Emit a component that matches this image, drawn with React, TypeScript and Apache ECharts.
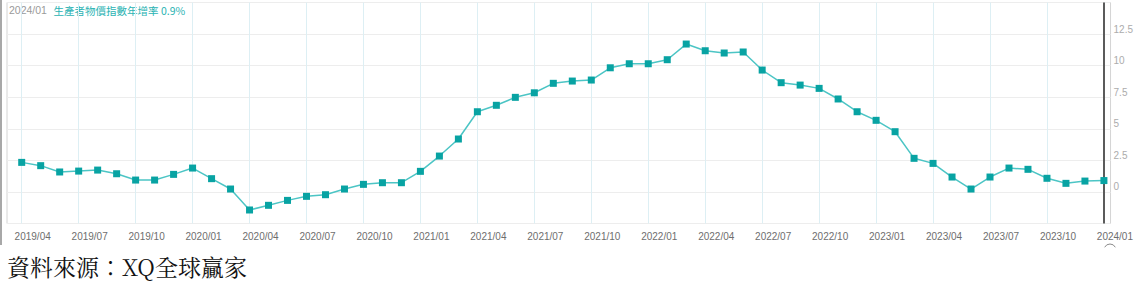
import React, { useEffect, useRef } from "react";
import * as echarts from "echarts";

const months: string[] = [
  "2019/04","2019/05","2019/06","2019/07","2019/08","2019/09","2019/10","2019/11","2019/12",
  "2020/01","2020/02","2020/03","2020/04","2020/05","2020/06","2020/07","2020/08","2020/09","2020/10","2020/11","2020/12",
  "2021/01","2021/02","2021/03","2021/04","2021/05","2021/06","2021/07","2021/08","2021/09","2021/10","2021/11","2021/12",
  "2022/01","2022/02","2022/03","2022/04","2022/05","2022/06","2022/07","2022/08","2022/09","2022/10","2022/11","2022/12",
  "2023/01","2023/02","2023/03","2023/04","2023/05","2023/06","2023/07","2023/08","2023/09","2023/10","2023/11","2023/12",
  "2024/01",
];

const ppiYoY: number[] = [
  2.34, 2.08, 1.58, 1.65, 1.73, 1.44, 0.94, 0.94, 1.39,
  1.89, 1.05, 0.23, -1.43, -1.06, -0.67, -0.35, -0.22, 0.23, 0.6, 0.73, 0.73,
  1.63, 2.84, 4.19, 6.35, 6.86, 7.49, 7.85, 8.6, 8.78, 8.86, 9.83, 10.15,
  10.15, 10.47, 11.71, 11.18, 11.0, 11.08, 9.65, 8.65, 8.46, 8.2, 7.36, 6.35,
  5.67, 4.77, 2.66, 2.26, 1.18, 0.23, 1.18, 1.89, 1.79, 1.08, 0.68, 0.86,
  0.9,
];

const seriesName = "生產者物價指數年增率";
const sourceText = "資料來源：XQ全球贏家";
const yMin = -2.5;
const yMax = 15;
const yStep = 2.5;

export default function App() {
  const ref = useRef<HTMLDivElement>(null);

  useEffect(() => {
    if (!ref.current) return;
    const chart = echarts.init(ref.current, null, { renderer: "svg" });
    const lastIdx = months.length - 1;
    const lastLabel = months[lastIdx];
    const lastVal = ppiYoY[lastIdx];

    const option: any = {
      animation: false,
      backgroundColor: "#ffffff",
      textStyle: { fontFamily: "'Liberation Sans', Arial, sans-serif" },
      grid: [
        {
          left: 7,
          top: 2.5,
          width: 1111,
          height: 221,
          show: true,
          borderColor: "#d4d4d4",
          borderWidth: 1,
          backgroundColor: "transparent",
        },
        {
          left: 21.7,
          top: 2.5,
          width: 1082.8,
          height: 221,
        },
      ],
      xAxis: [
        { type: "value", gridIndex: 0, show: false, min: 0, max: 1 },
        {
          type: "category",
          gridIndex: 1,
          data: months,
          boundaryGap: false,
          axisLine: { show: false },
          axisTick: { show: false },
          axisLabel: {
            interval: 2,
            color: "#6e6e6e",
            fontSize: 10,
            margin: 8,
            padding: [0, 0, 0, 22],
            fontFamily: "'Liberation Sans', Arial, sans-serif",
          },
          splitLine: {
            show: true,
            interval: 2,
            lineStyle: { color: "#ddeff4", width: 1 },
          },
        },
      ],
      yAxis: [
        {
          type: "value",
          gridIndex: 0,
          position: "right",
          min: yMin,
          max: yMax,
          interval: yStep,
          axisLine: { show: false },
          axisTick: { show: false },
          splitLine: { show: true, lineStyle: { color: "#ededed", width: 1 } },
          axisLabel: {
            margin: 3,
            color: "#acacac",
            fontSize: 10,
            verticalAlign: "bottom",
            formatter: (v: number) => (v <= yMin || v >= yMax ? "" : String(v)),
          },
        },
        { type: "value", gridIndex: 1, min: yMin, max: yMax, show: false },
      ],
      series: [
        {
          name: seriesName,
          type: "line",
          xAxisIndex: 1,
          yAxisIndex: 1,
          data: ppiYoY,
          symbol: "rect",
          symbolSize: 7,
          showAllSymbol: true,
          itemStyle: { color: "#08a3a3" },
          lineStyle: { color: "#4cc5c5", width: 1.5 },
          z: 3,
          markLine: {
            silent: true,
            symbol: "none",
            label: { show: false },
            lineStyle: { color: "#5b5b5b", width: 2, type: "solid" },
            data: [{ xAxis: lastLabel }],
            z: 2,
          },
        },
      ],
      graphic: [
        {
          type: "rect",
          shape: { x: 0, y: 0, width: 2, height: 245 },
          style: { fill: "#a8a8a8" },
          silent: true,
        },
        {
          type: "text",
          left: 9,
          top: 4,
          style: {
            text: `{a|${lastLabel}}  {b|${seriesName} ${lastVal.toFixed(1)}%}`,
            rich: {
              a: { fontSize: 10.5, fill: "#9a9a9a", fontFamily: "'Liberation Sans', Arial, sans-serif" },
              b: { fontSize: 10.5, fill: "#2ab3b3", fontFamily: "'Noto Sans CJK TC', 'Liberation Sans', sans-serif" },
            },
          },
          silent: true,
        },
        {
          type: "text",
          left: 7,
          top: 255,
          style: {
            text: sourceText,
            fontSize: 23,
            fill: "#111111",
            fontFamily: "'Noto Serif CJK TC', 'Noto Sans CJK TC', serif",
          },
          silent: true,
        },
        {
          type: "arc",
          shape: { cx: 1110, cy: 250, r: 6, startAngle: -Math.PI * 0.85, endAngle: -Math.PI * 0.15 },
          style: { stroke: "#8a8a8a", lineWidth: 1, fill: "none" },
          silent: true,
        },
      ],
    };

    chart.setOption(option);
    return () => chart.dispose();
  }, []);

  return (
    <div
      ref={ref}
      style={{ position: "fixed", left: 0, top: 0, width: 1136, height: 289, background: "#fff" }}
    />
  );
}
